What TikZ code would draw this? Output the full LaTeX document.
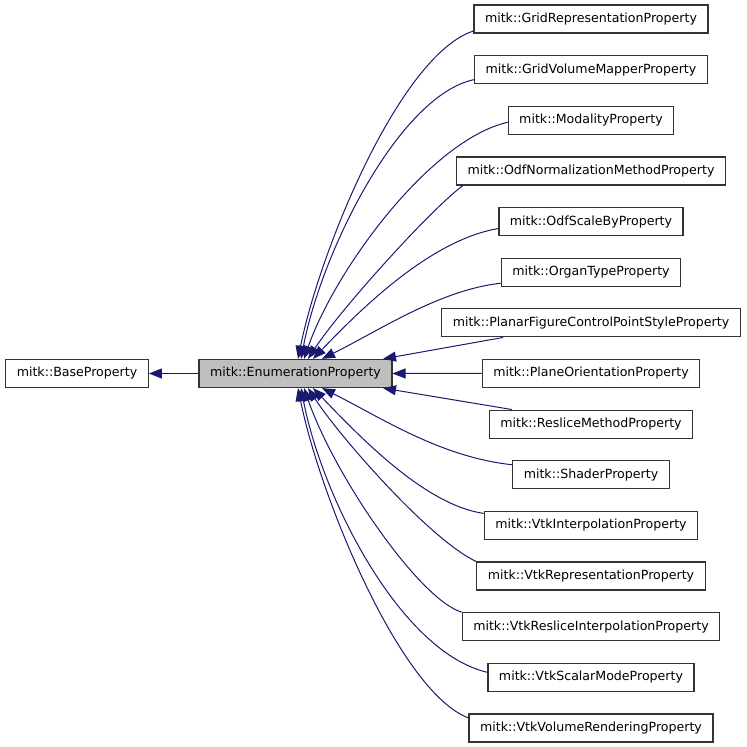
\documentclass[tikz,border=0pt]{standalone}
\usepackage{fontspec}
\setmainfont{DejaVu Sans}
\usetikzlibrary{arrows.meta}
\definecolor{midnight}{RGB}{25,25,112}
\definecolor{boxgray}{RGB}{191,191,191}
\newcommand{\rowgap}{50.64}

\begin{document}
\begin{tikzpicture}[x=1pt,y=-1pt,
	cls/.style={draw=black!80, line width=1.2pt, minimum height=28pt,
		inner xsep=11pt, inner ysep=0pt, font=\fontsize{12.6}{15}\selectfont},
	inherit/.style={draw=midnight, line width=1pt,
		-{Triangle[length=13pt,width=10pt]}}]
	\useasboundingbox (0,0) rectangle (747,747);

	\node[cls] (base) at (77,373.5) {mitk::BaseProperty};
	\node[cls, fill=boxgray] (enum) at (295.5,373.5) {mitk::EnumerationProperty};

	\node[cls] (grid) at (591,19) {mitk::GridRepresentationProperty};
	\node[cls] (gridvol) at (591,19+\rowgap) {mitk::GridVolumeMapperProperty};
	\node[cls] (modality) at (591,19+2*\rowgap) {mitk::ModalityProperty};
	\node[cls] (odfnorm) at (591,19+3*\rowgap) {mitk::OdfNormalizationMethodProperty};
	\node[cls] (odfscale) at (591,19+4*\rowgap) {mitk::OdfScaleByProperty};
	\node[cls] (organ) at (591,19+5*\rowgap) {mitk::OrganTypeProperty};
	\node[cls] (planar) at (591,19+6*\rowgap) {mitk::PlanarFigureControlPointStyleProperty};
	\node[cls] (plane) at (591,19+7*\rowgap) {mitk::PlaneOrientationProperty};
	\node[cls] (reslice) at (591,19+8*\rowgap) {mitk::ResliceMethodProperty};
	\node[cls] (shader) at (591,19+9*\rowgap) {mitk::ShaderProperty};
	\node[cls] (vinterp) at (591,19+10*\rowgap) {mitk::VtkInterpolationProperty};
	\node[cls] (vrep) at (591,19+11*\rowgap) {mitk::VtkRepresentationProperty};
	\node[cls] (vreslice) at (591,19+12*\rowgap) {mitk::VtkResliceInterpolationProperty};
	\node[cls] (vscalar) at (591,19+13*\rowgap) {mitk::VtkScalarModeProperty};
	\node[cls] (vvolume) at (591,19+14*\rowgap) {mitk::VtkVolumeRenderingProperty};

	% enumeration -> base
	\draw[inherit] (enum) -- (base);

	% children above
	\draw[inherit] ([yshift=-12pt]grid.west) .. controls (400,55) and (320,250) .. ([xshift=2.5pt]enum.north);
	\draw[inherit] ([yshift=-10pt]gridvol.west) .. controls (400,95) and (322,250) .. ([xshift=5.5pt]enum.north);
	\draw[inherit] ([yshift=-2pt]modality.west) .. controls (430,140) and (335,270) .. ([xshift=8.5pt]enum.north);
	\draw[inherit] ([xshift=7pt]odfnorm.south west) .. controls (430,210) and (340,310) .. ([xshift=12.5pt]enum.north);
	\draw[inherit] ([yshift=-7pt]odfscale.west) .. controls (430,240) and (360,310) .. ([xshift=17.5pt]enum.north);
	\draw[inherit] ([yshift=-11pt]organ.west) .. controls (440,290) and (380,330) .. ([xshift=26.5pt]enum.north);
	\draw[inherit] ([xshift=62pt]planar.south west) -- ([xshift=87.5pt]enum.north);
	\draw[inherit] (plane) -- (enum);

	% children below
	\draw[inherit] ([xshift=23pt]reslice.north west) -- ([xshift=87.5pt]enum.south);
	\draw[inherit] ([yshift=10pt]shader.west) .. controls (440,457) and (380,417) .. ([xshift=26.5pt]enum.south);
	\draw[inherit] ([yshift=12pt]vinterp.west) .. controls (425,505) and (360,437) .. ([xshift=17.5pt]enum.south);
	\draw[inherit] (vrep.north west) .. controls (430,540) and (340,437) .. ([xshift=12.5pt]enum.south);
	\draw[inherit] (vreslice.north west) .. controls (420,600) and (335,477) .. ([xshift=8.5pt]enum.south);
	\draw[inherit] ([yshift=5pt]vscalar.west) .. controls (400,652) and (322,497) .. ([xshift=5.5pt]enum.south);
	\draw[inherit] ([yshift=10pt]vvolume.west) .. controls (400,692) and (320,497) .. ([xshift=2.5pt]enum.south);
\end{tikzpicture}
\end{document}
